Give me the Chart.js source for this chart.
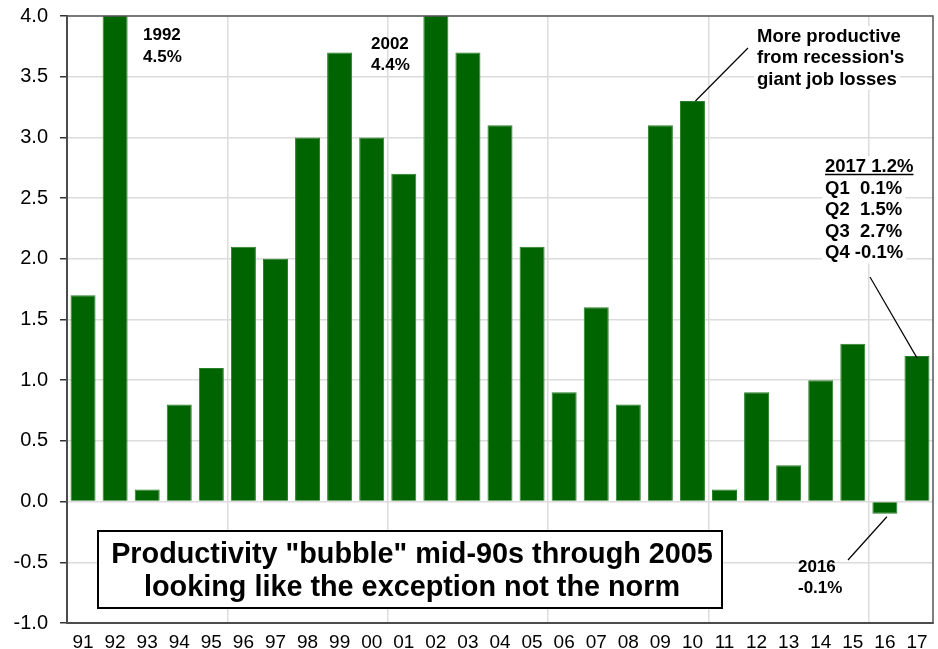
<!DOCTYPE html>
<html>
<head>
<meta charset="utf-8">
<script src="https://cdn.jsdelivr.net/npm/chart.js@4.4.0/dist/chart.umd.min.js"></script>
<style>
  body { margin: 0; background: #fff; }
</style>
</head>
<body>
<canvas id="myChart" width="938" height="649"></canvas>
<script>
// productivity growth, % per year
var years = ["91", "92", "93", "94", "95", "96", "97", "98", "99", "00", "01", "02", "03", "04",
             "05", "06", "07", "08", "09", "10", "11", "12", "13", "14", "15", "16", "17"];
var growth = [1.7, 4.5, 0.1, 0.8, 1.1, 2.1, 2.0, 3.0, 3.7, 3.0, 2.7, 4.4, 3.7, 3.1,
              2.1, 0.9, 1.6, 0.8, 3.1, 3.3, 0.1, 0.9, 0.3, 1.0, 1.3, -0.1, 1.2];
var quarters2017 = ["2017 1.2%", "Q1  0.1%", "Q2  1.5%", "Q3  2.7%", "Q4 -0.1%"];

var FONT = '"Liberation Sans", Arial, sans-serif';

function lines(ctx, arr, x, y, lh, bg) {
    for (var i = 0; i < arr.length; i++) {
        if (bg) {
            var w = ctx.measureText(arr[i]).width;
            ctx.fillStyle = '#fff';
            ctx.fillRect(x - 3, y + i * lh - 16, w + 6, lh);
        }
        ctx.fillStyle = '#000';
        ctx.fillText(arr[i], x, y + i * lh);
    }
}

function seg(ctx, x1, y1, x2, y2) {
    ctx.beginPath();
    ctx.moveTo(x1, y1);
    ctx.lineTo(x2, y2);
    ctx.stroke();
}

var notes = {
    id: 'notes',
    afterDatasetsDraw: function (chart) {
        var ctx = chart.ctx, a = chart.chartArea;
        var xs = chart.scales.x, ys = chart.scales.y;
        ctx.save();

        // frame round the plot
        ctx.strokeStyle = '#555';
        ctx.lineWidth = 1.5;
        ctx.strokeRect(a.left, a.top, a.right - a.left, a.bottom - a.top);

        ctx.textAlign = 'left';
        ctx.textBaseline = 'alphabetic';
        ctx.font = 'bold 17px ' + FONT;
        lines(ctx, ["1992", "4.5%"], 143, 40, 22);
        lines(ctx, ["2002", "4.4%"], 371, 49, 21);
        lines(ctx, ["2016", "-0.1%"], 798, 572, 21);

        ctx.font = 'bold 18.5px ' + FONT;
        lines(ctx, ["More productive", "from recession's", "giant job losses"], 757, 42, 21.3, true);
        lines(ctx, quarters2017, 825, 172, 21.5, true);
        // underline heading
        ctx.lineWidth = 1.5;
        ctx.strokeStyle = '#000';
        seg(ctx, 825, 174.5, 825 + ctx.measureText(quarters2017[0]).width, 174.5);

        // leader lines
        ctx.lineWidth = 1.2;
        seg(ctx, xs.getPixelForValue(19) + 3, ys.getPixelForValue(growth[19]), 748, 48);
        seg(ctx, 870, 277, xs.getPixelForValue(26), ys.getPixelForValue(growth[26]) + 2);
        seg(ctx, 848, 560, xs.getPixelForValue(25) + 2, ys.getPixelForValue(growth[25]) + 3);

        // message box
        ctx.fillStyle = '#fff';
        ctx.fillRect(98, 531, 624, 77);
        ctx.lineWidth = 2;
        ctx.strokeRect(98, 531, 624, 77);
        ctx.fillStyle = '#000';
        ctx.textAlign = 'center';
        ctx.font = 'bold 28.8px ' + FONT;
        ctx.fillText('Productivity "bubble" mid-90s through 2005', 412, 563);
        ctx.fillText('looking like the exception not the norm', 412, 596);

        ctx.restore();
    }
};

new Chart("myChart", {
    type: "bar",
    data: {
        labels: years,
        datasets: [{
            data: growth,
            backgroundColor: "#006400",
            borderColor: "#2a7d2a",
            borderWidth: 1,
            barPercentage: 0.78,
            categoryPercentage: 1.0
        }]
    },
    options: {
        responsive: false,
        animation: false,
        layout: { padding: { left: 0, top: 16, right: 5, bottom: 0 } },
        plugins: {
            legend: { display: false },
            tooltip: { enabled: false }
        },
        scales: {
            x: {
                grid: {
                    color: function (c) { return c.index % 5 === 0 ? '#dcdcdc' : 'rgba(0,0,0,0)'; },
                    lineWidth: 1.5,
                    drawTicks: false
                },
                border: { color: '#333', width: 2 },
                ticks: {
                    color: '#000',
                    font: { family: FONT, size: 19 },
                    padding: 8,
                    maxRotation: 0,
                    autoSkip: false
                },
                afterFit: function (s) { s.height = 26; s.paddingLeft = 0; s.paddingRight = 0; }
            },
            y: {
                min: -1,
                max: 4,
                grid: {
                    color: '#dcdcdc',
                    lineWidth: 1.5,
                    tickLength: 7,
                    tickColor: '#333',
                    tickWidth: 1.5
                },
                border: { color: '#333', width: 2 },
                ticks: {
                    stepSize: 0.5,
                    color: '#000',
                    font: { family: FONT, size: 20 },
                    padding: 12,
                    callback: function (v) { return v.toFixed(1); }
                },
                afterFit: function (s) { s.width = 67; s.paddingTop = 0; s.paddingBottom = 0; }
            }
        }
    },
    plugins: [notes]
});
</script>
</body>
</html>
